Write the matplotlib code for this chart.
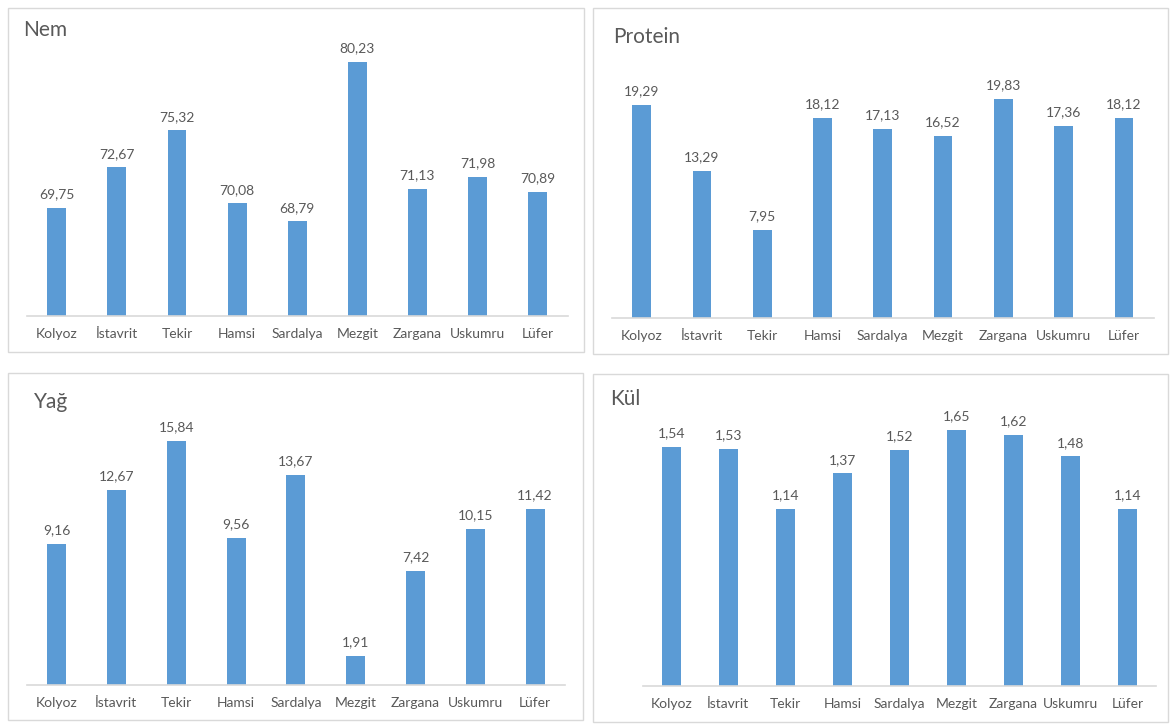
import matplotlib
matplotlib.use("Agg")
import matplotlib.pyplot as plt
from matplotlib.patches import Rectangle

plt.rcParams['font.family'] = ['Lato', 'DejaVu Sans']

categories = ["Kolyoz", "İstavrit", "Tekir", "Hamsi", "Sardalya", "Mezgit", "Zargana", "Uskumru", "Lüfer"]
nem = [69.75, 72.67, 75.32, 70.08, 68.79, 80.23, 71.13, 71.98, 70.89]
protein = [19.29, 13.29, 7.95, 18.12, 17.13, 16.52, 19.83, 17.36, 18.12]
yag = [9.16, 12.67, 15.84, 9.56, 13.67, 1.91, 7.42, 10.15, 11.42]
kul = [1.54, 1.53, 1.14, 1.37, 1.52, 1.65, 1.62, 1.48, 1.14]

W, H = 1172, 724
fig = plt.figure(figsize=(W / 100, H / 100), dpi=100)
fig.patch.set_facecolor("white")

BAR = "#5B9BD5"
TXT = "#595959"
GRID = "#D9D9D9"


def px_rect(x0, y0, x1, y1):
    return [x0 / W, 1 - y1 / H, (x1 - x0) / W, (y1 - y0) / H]


panels = [
    # title, values, box(x0,y0,x1,y1), axes(x0,ytop,x1,ybase), ylim, title pos, bar width
    ("Nem", nem, (8, 8, 584, 352), (26.7, 37.4, 567.7, 316.0), (62, 82), (23, 30), 0.315),
    ("Protein", protein, (593, 8, 1168, 354), (611.5, 42.0, 1154, 317.7), (0, 25), (613, 37), 0.31),
    ("Yağ", yag, (8, 373, 583, 720), (26.7, 407.7, 565, 685.4), (0, 18), (34, 402), 0.318),
    ("Kül", kul, (593, 374, 1168, 722), (642.7, 406.7, 1156, 685.7), (0, 1.8), (610.5, 399), 0.326),
]

for title, vals, box, axp, ylim, tpos, bw in panels:
    bx0, by0, bx1, by1 = box
    fig.patches.append(Rectangle((bx0 / W, 1 - by1 / H), (bx1 - bx0) / W, (by1 - by0) / H,
                                 transform=fig.transFigure, facecolor="none",
                                 edgecolor=GRID, linewidth=1.0, zorder=-5))
    ax0, ayt, ax1, ayb = axp
    ax = fig.add_axes(px_rect(ax0, ayt, ax1, ayb), zorder=2)
    ax.patch.set_alpha(0)
    xs = list(range(len(categories)))
    ax.bar(xs, vals, width=bw, color=BAR, edgecolor="none", zorder=2)
    ax.set_xlim(-0.5, len(categories) - 0.5)
    ax.set_ylim(*ylim)
    for i, v in zip(xs, vals):
        ax.annotate(f"{v:.2f}".replace(".", ","), (i, v), xytext=(0, 5.5),
                    textcoords="offset points", ha="center", va="bottom",
                    fontsize=10, color=TXT)
    ax.set_xticks(xs)
    ax.set_xticklabels(categories, fontsize=10, color=TXT)
    ax.tick_params(axis="x", length=0, pad=8.5)
    ax.set_yticks([])
    for s in ["top", "right", "left"]:
        ax.spines[s].set_visible(False)
    ax.spines["bottom"].set_color(GRID)
    ax.spines["bottom"].set_linewidth(1.2)
    fig.text(tpos[0] / W, 1 - tpos[1] / H, title, ha="left", va="center",
             fontsize=15, color=TXT)

fig.savefig("out.png", dpi=100, facecolor="white")
